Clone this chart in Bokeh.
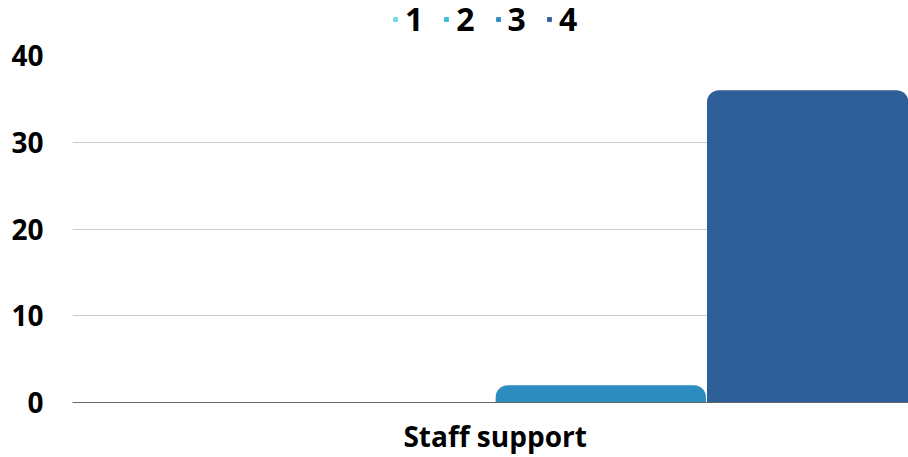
from bokeh.plotting import figure
from bokeh.models import Range1d, ColumnDataSource, Legend, LegendItem, FixedTicker
from bokeh.layouts import column
from bokeh.embed import file_html
from bokeh.resources import INLINE

categories = ["Staff support"]
series_names = ["1", "2", "3", "4"]
values_1 = [0]
values_2 = [0]
values_3 = [2]
values_4 = [36]
colors = ["#6fd9e6", "#3cb8d9", "#2c8bbf", "#2f5f98"]
y_ticks = [0, 10, 20, 30, 40]

series_values = [values_1, values_2, values_3, values_4]
n = len(series_names)
group_w = 1.0 / n
cat_pos = list(range(len(categories)))

FONT = "Open Sans"
LEG_H = 40

x_rng = Range1d(0, 0.989)

# legend strip on top (its own bars lie outside its y range, so only the legend shows)
lf = figure(width=908, height=LEG_H, x_range=x_rng, y_range=Range1d(100, 101),
            output_backend="svg", toolbar_location=None, min_border=0,
            min_border_left=72, x_axis_location=None, y_axis_location=None)
lf.outline_line_color = None
lf.grid.grid_line_color = None

# main chart
p = figure(width=908, height=457 - LEG_H, x_range=x_rng,
           y_range=Range1d(0, 40), output_backend="svg", toolbar_location=None,
           min_border_left=72, min_border_right=0, min_border_top=55 - LEG_H, min_border_bottom=54)
p.outline_line_color = None

items = []
for i, (name, col, vals) in enumerate(zip(series_names, colors, series_values)):
    xs = [c + (i + 0.5) * group_w for c in cat_pos]
    src = ColumnDataSource(data=dict(x=xs, top=vals))
    p.vbar(x="x", top="top", width=group_w - 0.0012, source=src,
           fill_color=col, line_color=None, border_radius=(12, 12, 0, 0))
    lr = lf.vbar(x="x", top="top", width=group_w, source=src, fill_color=col, line_color=None)
    items.append(LegendItem(label=name, renderers=[lr]))

legend = Legend(items=items, orientation="horizontal", location=(320, 0),
                label_text_font=FONT, label_text_font_style="bold", label_text_font_size="32px",
                label_text_color="#000000", glyph_width=6, glyph_height=6, spacing=20,
                label_standoff=7, label_width=18, padding=0, margin=0, border_line_color=None,
                label_height=30, background_fill_alpha=0)
lf.add_layout(legend, "center")

p.yaxis.ticker = y_ticks
p.yaxis.axis_line_color = None
p.yaxis.major_tick_line_color = None
p.yaxis.minor_tick_line_color = None
p.yaxis.major_label_text_font = FONT
p.yaxis.major_label_text_font_style = "bold"
p.yaxis.major_label_text_font_size = "28px"
p.yaxis.major_label_text_color = "#000000"
p.yaxis.major_label_standoff = 23

p.xaxis.ticker = FixedTicker(ticks=[c + 0.5 for c in cat_pos])
p.xaxis.major_label_overrides = {c + 0.5: lab for c, lab in zip(cat_pos, categories)}
p.xaxis.axis_line_color = "#666666"
p.xaxis.major_tick_line_color = None
p.xaxis.minor_tick_line_color = None
p.xaxis.major_label_text_font = FONT
p.xaxis.major_label_text_font_style = "bold"
p.xaxis.major_label_text_font_size = "28px"
p.xaxis.major_label_text_color = "#000000"
p.xaxis.major_label_standoff = 8

p.xgrid.grid_line_color = None
p.ygrid.grid_line_color = "#cccccc"
p.ygrid.ticker = y_ticks

layout = column(lf, p, spacing=0)
open("out.html", "w").write(file_html(layout, INLINE))
